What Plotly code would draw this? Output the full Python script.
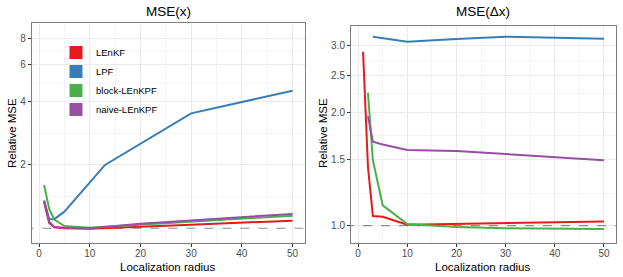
import plotly.graph_objects as go
import numpy as np

names = ["LEnKF", "LPF", "block-LEnKPF", "naive-LEnKPF"]
colors = ["#E41A1C", "#377EB8", "#4DAF4A", "#984EA3"]

# Left panel: MSE(x)
left_x = {
    "LEnKF": [1, 2, 3, 5, 10, 20, 30, 50],
    "LPF": [1, 2, 3, 5, 13, 30, 50],
    "block-LEnKPF": [1, 2, 3, 5, 10, 20, 30, 50],
    "naive-LEnKPF": [1, 2, 3, 5, 10, 20, 30, 50],
}
left_y = {
    "LEnKF": [1.33, 1.06, 1.01, 1.0, 0.995, 1.02, 1.04, 1.087],
    "LPF": [1.353, 1.107, 1.105, 1.199, 2.0, 3.52, 4.51],
    "block-LEnKPF": [1.607, 1.235, 1.10, 1.025, 1.005, 1.04, 1.08, 1.148],
    "naive-LEnKPF": [1.353, 1.075, 1.014, 1.005, 1.0, 1.05, 1.09, 1.17],
}

# Right panel: MSE(Δx)
right_x = {
    "LEnKF": [1, 2, 3, 5, 10, 20, 30, 50],
    "LPF": [3, 10, 20, 30, 50],
    "block-LEnKPF": [2, 3, 5, 10, 20, 30, 50],
    "naive-LEnKPF": [2, 3, 5, 10, 20, 30, 50],
}
right_y = {
    "LEnKF": [2.89, 1.43, 1.061, 1.056, 1.006, 1.01, 1.015, 1.025],
    "LPF": [3.165, 3.07, 3.12, 3.165, 3.127],
    "block-LEnKPF": [2.25, 1.49, 1.132, 1.01, 0.992, 0.984, 0.98],
    "naive-LEnKPF": [1.95, 1.668, 1.64, 1.586, 1.577, 1.549, 1.49],
}

ref_x = [-10, 60]
ref_y = [1, 1]

left_yticks = [2, 4, 6, 8]
right_yticks = [1.0, 1.5, 2.0, 2.5, 3.0]
right_yticklabels = ["1.0", "1.5", "2.0", "2.5", "3.0"]
xticks = [0, 10, 20, 30, 40, 50]

W, H = 623, 277
FONT = "Liberation Sans, Arial, sans-serif"

fig = go.Figure()

for ax, xs, ys in [("", left_x, left_y), ("2", right_x, right_y)]:
    fig.add_trace(go.Scatter(x=ref_x, y=ref_y, mode="lines",
                             line=dict(color="#8c8c8c", width=1.2, dash="dash"),
                             showlegend=False, hoverinfo="skip",
                             xaxis="x" + ax, yaxis="y" + ax))
    for n, c in zip(names, colors):
        fig.add_trace(go.Scatter(x=xs[n], y=ys[n], mode="lines",
                                 line=dict(color=c, width=2),
                                 name=n, showlegend=False,
                                 xaxis="x" + ax, yaxis="y" + ax))

# legend keys as filled squares
for n, c in zip(names, colors):
    fig.add_trace(go.Scatter(x=[None], y=[None], name=n, mode="markers",
                             marker=dict(color=c, symbol="square", size=13,
                                         line=dict(width=0)),
                             showlegend=True, xaxis="x", yaxis="y"))

def px_x(p):
    return p / W

def px_y(p):
    return 1 - p / H

minor_x = [5, 15, 25, 35, 45]
TICKF = dict(size=10, color="#4d4d4d", family=FONT)

common_x = dict(range=[-1.45, 52.45], tickvals=xticks, ticks="outside", ticklen=3,
                tickcolor="#333333", tickfont=TICKF, ticklabelstandoff=-2,
                showline=True, mirror=True, linecolor="#7f7f7f", linewidth=1,
                showgrid=True, gridcolor="#ebebeb", gridwidth=1, zeroline=False,
                automargin=False,
                minor=dict(tickvals=minor_x, showgrid=True, gridcolor="#f4f4f4", ticks=""))

fig.update_layout(
    width=W, height=H,
    margin=dict(l=0, r=0, t=0, b=0, autoexpand=False),
    paper_bgcolor="white", plot_bgcolor="white",
    font=dict(family=FONT, color="#000000"),
    xaxis=dict(domain=[px_x(31.7), px_x(305)], anchor="y", **common_x),
    xaxis2=dict(domain=[px_x(351), px_x(616)], anchor="y2", **common_x),
    yaxis=dict(domain=[px_y(243.3), px_y(22.7)], anchor="x", type="log",
               range=[np.log10(0.848), np.log10(9.5)], automargin=False,
               tickvals=left_yticks, ticktext=[str(v) for v in left_yticks],
               ticks="outside", ticklen=3, tickcolor="#333333", tickfont=TICKF,
               showline=True, mirror=True, linecolor="#7f7f7f", linewidth=1,
               showgrid=True, gridcolor="#ebebeb", zeroline=False,
               minor=dict(tickvals=[1.41, 2.83, 4.9, 6.93], showgrid=True,
                          gridcolor="#f4f4f4", ticks="")),
    yaxis2=dict(domain=[px_y(243.3), px_y(25.7)], anchor="x2", type="log",
                range=[np.log10(0.898), np.log10(3.386)], automargin=False,
                tickvals=right_yticks, ticktext=right_yticklabels,
                ticks="outside", ticklen=3, tickcolor="#333333", tickfont=TICKF,
                showline=True, mirror=True, linecolor="#7f7f7f", linewidth=1,
                showgrid=True, gridcolor="#ebebeb", zeroline=False,
                minor=dict(tickvals=[1.22, 1.73, 2.24, 2.74], showgrid=True,
                           gridcolor="#f4f4f4", ticks="")),
    legend=dict(x=px_x(56), y=px_y(38), xanchor="left", yanchor="top",
                bgcolor="rgba(0,0,0,0)", font=dict(size=9.5, family=FONT),
                tracegroupgap=0, itemwidth=30, itemsizing="trace"),
    showlegend=True,
)

ann = [
    dict(text="MSE(x)", x=px_x(168), y=px_y(12), font=dict(size=13.5)),
    dict(text="MSE(Δx)", x=px_x(483), y=px_y(12), font=dict(size=13.5)),
    dict(text="Localization radius", x=px_x(168), y=px_y(266.5), font=dict(size=11.5)),
    dict(text="Localization radius", x=px_x(483), y=px_y(266.5), font=dict(size=11.5)),
    dict(text="Relative MSE", x=px_x(12), y=px_y(133), font=dict(size=11.5), textangle=-90),
    dict(text="Relative MSE", x=px_x(323), y=px_y(133), font=dict(size=11.5), textangle=-90),
]
for a in ann:
    a.update(xref="paper", yref="paper", showarrow=False, xanchor="center", yanchor="middle")
    a["font"]["family"] = FONT
    a["font"]["color"] = "#000000"
fig.update_layout(annotations=ann)

fig.write_html("out.html", config={"displayModeBar": False},
               post_script="document.body.style.margin='0';document.body.style.overflow='hidden';")
